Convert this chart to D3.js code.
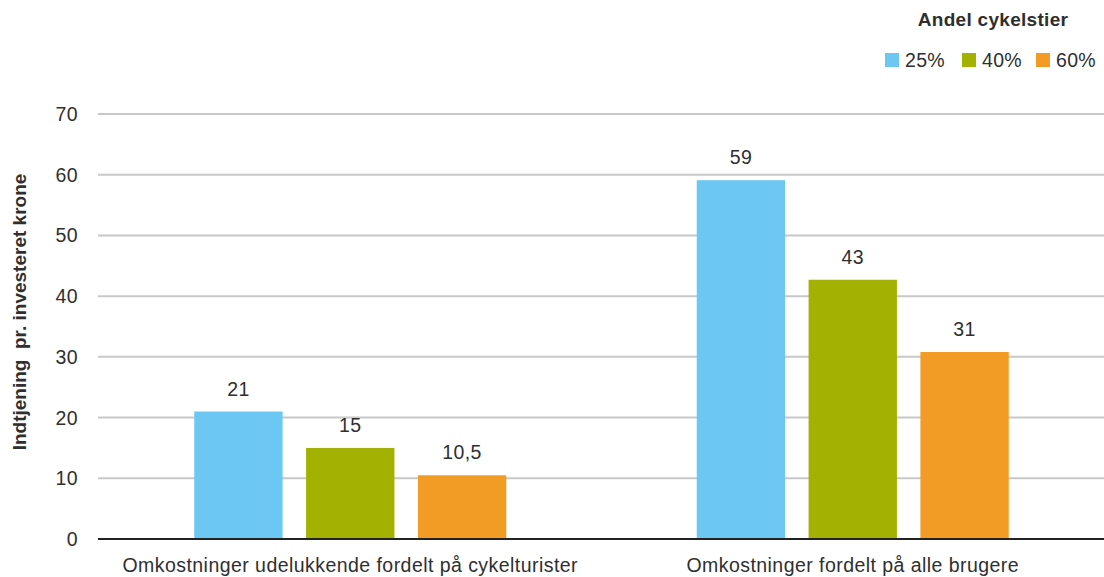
<!DOCTYPE html>
<html>
<head>
<meta charset="utf-8">
<script src="https://cdn.jsdelivr.net/npm/d3@7"></script>
<style>
  body { margin: 0; background: #fff; }
  text { font-family: "Liberation Sans", Arial, sans-serif; fill: #2f2f2f; }
</style>
</head>
<body>
<div id="chart"></div>
<script>
// categories and series
var categories = ["Omkostninger udelukkende fordelt på cykelturister", "Omkostninger fordelt på alle brugere"];
var seriesNames = ["25%", "40%", "60%"];
var colors = ["#6cc8f3", "#a3b100", "#f39c25"];
var values25 = [21, 59.1];
var values40 = [15, 42.7];
var values60 = [10.5, 30.8];
var labels25 = ["21", "59"];
var labels40 = ["15", "43"];
var labels60 = ["10,5", "31"];
var yTicks = [0, 10, 20, 30, 40, 50, 60, 70];

var width = 1104, height = 577;
var margin = { top: 114, right: 0, bottom: 38, left: 99 };
var fs = "19.5px";

var svg = d3.select("#chart")
    .append("svg")
    .attr("width", width)
    .attr("height", height);

var x0 = d3.scaleBand()
    .domain(categories)
    .range([margin.left, width - margin.right])
    .paddingInner(0)
    .paddingOuter(0);

var x1 = d3.scaleBand()
    .domain(seriesNames)
    .range([0, 312])
    .paddingInner(0.21);

var y = d3.scaleLinear()
    .domain([0, 70])
    .range([height - margin.bottom, margin.top]);

// gridlines
svg.append("g")
    .selectAll("line")
    .data(yTicks.filter(d => d > 0))
    .enter()
    .append("line")
    .attr("x1", 98)
    .attr("x2", width)
    .attr("y1", d => y(d))
    .attr("y2", d => y(d))
    .attr("stroke", "#c8c8c8")
    .attr("stroke-width", 2);

// y tick labels
svg.append("g")
    .selectAll("text")
    .data(yTicks)
    .enter()
    .append("text")
    .attr("x", 78)
    .attr("y", d => y(d))
    .attr("dy", "0.36em")
    .attr("text-anchor", "end")
    .style("font-size", fs)
    .style("letter-spacing", "0.4px")
    .text(d => d);

// bars
var rows = categories.map(function(c, i) {
    return [
        { cat: c, s: seriesNames[0], v: values25[i], l: labels25[i], c: colors[0] },
        { cat: c, s: seriesNames[1], v: values40[i], l: labels40[i], c: colors[1] },
        { cat: c, s: seriesNames[2], v: values60[i], l: labels60[i], c: colors[2] }
    ];
});

var groups = svg.selectAll(".grp")
    .data(rows)
    .enter()
    .append("g")
    .attr("class", "grp")
    .attr("transform", (d, i) => "translate(" + (x0(categories[i]) + x0.bandwidth() / 2 - 156) + ",0)");

groups.selectAll("rect")
    .data(d => d)
    .enter()
    .append("rect")
    .attr("x", d => x1(d.s))
    .attr("width", x1.bandwidth())
    .attr("y", d => y(d.v))
    .attr("height", d => y(0) - y(d.v))
    .attr("fill", d => d.c);

groups.selectAll("text")
    .data(d => d)
    .enter()
    .append("text")
    .attr("x", d => x1(d.s) + x1.bandwidth() / 2)
    .attr("y", d => y(d.v) - 16)
    .attr("text-anchor", "middle")
    .style("font-size", fs)
    .style("letter-spacing", "0.4px")
    .text(d => d.l);

// baseline
svg.append("line")
    .attr("x1", 98)
    .attr("x2", width)
    .attr("y1", y(0))
    .attr("y2", y(0))
    .attr("stroke", "#222")
    .attr("stroke-width", 2);

// category labels
svg.append("g")
    .selectAll("text")
    .data(categories)
    .enter()
    .append("text")
    .attr("x", d => x0(d) + x0.bandwidth() / 2)
    .attr("y", 572)
    .attr("text-anchor", "middle")
    .style("font-size", fs)
    .style("letter-spacing", "0.45px")
    .text(d => d);

// y axis title
svg.append("text")
    .attr("transform", "translate(26," + 312 + ") rotate(-90)")
    .attr("text-anchor", "middle")
    .style("font-size", "19px")
    .style("font-weight", "bold")
    .style("white-space", "pre")
    .attr("xml:space", "preserve")
    .text("Indtjening  pr. investeret krone");

// legend
svg.append("text")
    .attr("x", 993)
    .attr("y", 26)
    .attr("text-anchor", "middle")
    .style("font-size", "19px")
    .style("font-weight", "bold")
    .style("letter-spacing", "0.3px")
    .text("Andel cykelstier");

var legX = [885, 962, 1036];
var leg = svg.selectAll(".leg")
    .data(seriesNames)
    .enter()
    .append("g")
    .attr("class", "leg")
    .attr("transform", (d, i) => "translate(" + legX[i] + ",53)");

leg.append("rect")
    .attr("width", 14)
    .attr("height", 14)
    .attr("fill", (d, i) => colors[i]);

leg.append("text")
    .attr("x", 20)
    .attr("y", 7)
    .attr("dy", "0.36em")
    .style("font-size", fs)
    .style("letter-spacing", "0.3px")
    .text(d => d);
</script>
</body>
</html>
